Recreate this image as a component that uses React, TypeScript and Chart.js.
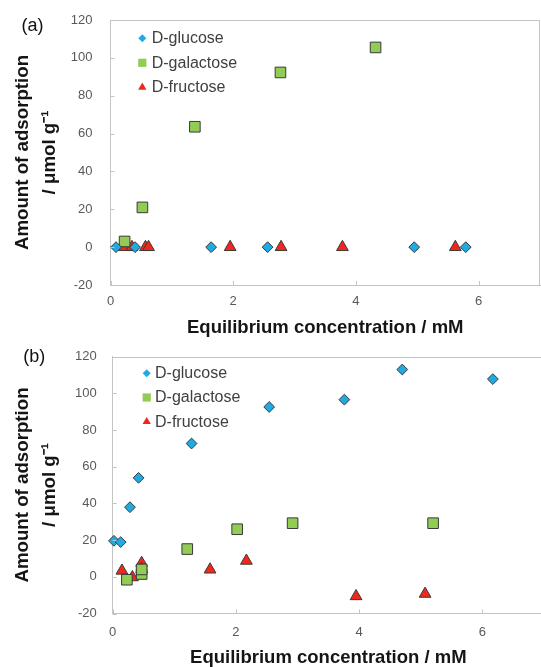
import React, { useEffect, useRef } from 'react';
import { Chart, registerables } from 'chart.js';
import { drawPoint } from 'chart.js/helpers';

Chart.register(...registerables);

// ---------- data ----------
const seriesNames = ['D-glucose', 'D-galactose', 'D-fructose'];
const xTitle = 'Equilibrium concentration / mM';
const yTitle = ['Amount of adsorption', '/ μmol g⁻¹'];
const xTickValues = [0, 2, 4, 6];
const yTickValues = [-20, 0, 20, 40, 60, 80, 100, 120];

// Panel (a)
const aGlucoseX = [0.09, 0.4, 1.64, 2.56, 4.95, 5.79];
const aGlucoseY = [0, 0, 0, 0, 0, 0];
const aGalactoseX = [0.23, 0.52, 1.375, 2.77, 4.32];
const aGalactoseY = [3, 21, 63.6, 92.3, 105.5];
const aFructoseX = [0.23, 0.35, 0.57, 0.62, 1.95, 2.78, 3.78, 5.62];
const aFructoseY = [0, 0, 0, 0, 0, 0, 0, 0];

// Panel (b)
const bGlucoseX = [0.02, 0.13, 0.28, 0.42, 1.28, 2.54, 3.76, 4.7, 6.17];
const bGlucoseY = [19.6, 18.9, 37.9, 53.9, 72.6, 92.5, 96.5, 112.9, 107.7];
const bGalactoseX = [0.23, 0.47, 0.47, 1.21, 2.02, 2.92, 5.2];
const bGalactoseY = [-1.6, 1.5, 4, 15.1, 25.9, 29.2, 29.2];
const bFructoseX = [0.15, 0.32, 0.47, 0.47, 1.58, 2.17, 3.95, 5.07];
const bFructoseY = [3.3, -0.3, 7.5, 4.2, 3.9, 8.7, -10.6, -9.3];

// ---------- styles ----------
const FONT = "'Liberation Sans', Arial, sans-serif";
const colors = ['#1eaae2', '#92cc55', '#f0281c'];
const pointStyles = ['rectRot', 'rect', 'triangle'];
const pointRadii = [5.4, 7.5, 6.8];
const legendRadii = [4, 5.8, 4.8];

const toPoints = (xs: number[], ys: number[]) => xs.map((x, i) => ({ x, y: ys[i] }));

const panelDecor = {
  id: 'panelDecor',
  afterDatasetsDraw(chart: any, _args: any, opts: any) {
    const { ctx, chartArea } = chart;
    const { left, right, top, bottom } = chartArea;
    ctx.save();
    ctx.strokeStyle = opts.frameColor;
    ctx.lineWidth = 1;
    ctx.beginPath();
    ctx.moveTo(left, Math.round(top) + 0.5);
    ctx.lineTo(right, Math.round(top) + 0.5);
    if (opts.rightBorder) {
      ctx.moveTo(Math.round(right) - 0.5, top);
      ctx.lineTo(Math.round(right) - 0.5, bottom);
    }
    const xs = chart.scales.x;
    const ys = chart.scales.y;
    xs.ticks.forEach((t: any) => {
      const px = Math.round(xs.getPixelForValue(t.value)) + 0.5;
      ctx.moveTo(px, bottom);
      ctx.lineTo(px, bottom - 4);
    });
    ys.ticks.forEach((t: any) => {
      const py = Math.round(ys.getPixelForValue(t.value)) + 0.5;
      ctx.moveTo(left, py);
      ctx.lineTo(left + 4, py);
    });
    ctx.stroke();

    const lg = opts.legend;
    chart.data.datasets.forEach((ds: any, i: number) => {
      const y = lg.y + i * lg.dy;
      ctx.fillStyle = ds.backgroundColor;
      ctx.strokeStyle = ds.backgroundColor;
      drawPoint(ctx, { pointStyle: ds.pointStyle, radius: legendRadii[i], borderWidth: 0, rotation: 0 } as any, lg.x, y);
      ctx.fillStyle = '#404040';
      ctx.font = `16px ${FONT}`;
      ctx.textBaseline = 'middle';
      ctx.textAlign = 'left';
      ctx.fillText(ds.label, lg.textX, y + 0.5);
    });
    ctx.restore();
  },
};

type PanelCfg = {
  width: number;
  height: number;
  top: number;
  padTop: number;
  padRight: number;
  yAxisWidth: number;
  xAxisHeight: number;
  yTickPad: number;
  xTickPad: number;
  xTitlePadBottom: number;
  rightBorder: boolean;
  legend: { x: number; y: number; dy: number; textX: number };
  series: { x: number[]; y: number[] }[];
};

const panelA: PanelCfg = {
  width: 541,
  height: 340,
  top: 0,
  padTop: 20,
  padRight: 1,
  yAxisWidth: 110.5,
  xAxisHeight: 55,
  yTickPad: 18,
  xTickPad: 9,
  xTitlePadBottom: 3,
  rightBorder: true,
  legend: { x: 142.3, y: 38.3, dy: 24.5, textX: 151.7 },
  series: [
    { x: aGlucoseX, y: aGlucoseY },
    { x: aGalactoseX, y: aGalactoseY },
    { x: aFructoseX, y: aFructoseY },
  ],
};

const panelB: PanelCfg = {
  width: 545,
  height: 327,
  top: 340,
  padTop: 16.5,
  padRight: 1,
  yAxisWidth: 112.7,
  xAxisHeight: 53.5,
  yTickPad: 16,
  xTickPad: 11,
  xTitlePadBottom: 0,
  rightBorder: false,
  legend: { x: 146.7, y: 33.3, dy: 24.2, textX: 155 },
  series: [
    { x: bGlucoseX, y: bGlucoseY },
    { x: bGalactoseX, y: bGalactoseY },
    { x: bFructoseX, y: bFructoseY },
  ],
};

function makeConfig(p: PanelCfg): any {
  return {
    type: 'scatter',
    data: {
      datasets: p.series.map((s, i) => ({
        label: seriesNames[i],
        data: toPoints(s.x, s.y),
        pointStyle: pointStyles[i],
        radius: pointRadii[i],
        pointRadius: pointRadii[i],
        backgroundColor: colors[i],
        borderColor: '#3a3a3a',
        borderWidth: 1,
        showLine: false,
        clip: false,
      })),
    },
    options: {
      responsive: false,
      animation: false,
      devicePixelRatio: 1,
      layout: { autoPadding: false, padding: { top: p.padTop, right: p.padRight, left: 0, bottom: 0 } },
      plugins: {
        legend: { display: false },
        tooltip: { enabled: false },
        panelDecor: { frameColor: '#c4c4c4', rightBorder: p.rightBorder, legend: p.legend },
      },
      scales: {
        x: {
          type: 'linear',
          min: 0,
          max: 7,
          bounds: 'data',
          afterBuildTicks: (s: any) => {
            s.ticks = xTickValues.map((v) => ({ value: v }));
          },
          afterFit: (s: any) => {
            s.height = p.xAxisHeight;
            s.paddingLeft = 0;
            s.paddingRight = 0;
            s.paddingTop = 0;
            s.paddingBottom = 0;
          },
          grid: { display: false, drawTicks: false },
          border: { display: true, color: '#c4c4c4', width: 1 },
          ticks: { padding: p.xTickPad, color: '#595959', font: { family: FONT, size: 13 } },
          title: {
            display: true,
            text: xTitle,
            color: '#151515',
            font: { family: FONT, size: 18.5, weight: 'bold', lineHeight: 1 },
            padding: { top: 0, bottom: p.xTitlePadBottom },
          },
        },
        y: {
          type: 'linear',
          min: -20,
          max: 120,
          bounds: 'data',
          afterBuildTicks: (s: any) => {
            s.ticks = yTickValues.map((v) => ({ value: v }));
          },
          afterFit: (s: any) => {
            s.width = p.yAxisWidth;
            s.paddingLeft = 0;
            s.paddingRight = 0;
            s.paddingTop = 0;
            s.paddingBottom = 0;
          },
          grid: { display: false, drawTicks: false },
          border: { display: true, color: '#c4c4c4', width: 1 },
          ticks: { padding: p.yTickPad, color: '#595959', font: { family: FONT, size: 13 } },
          title: {
            display: true,
            text: yTitle,
            color: '#151515',
            font: { family: FONT, size: 18.7, weight: 'bold', lineHeight: 1.45 },
            padding: { top: 9.5, bottom: 0 },
          },
        },
      },
    },
    plugins: [panelDecor],
  };
}

function Panel({ cfg }: { cfg: PanelCfg }) {
  const ref = useRef<HTMLCanvasElement | null>(null);
  useEffect(() => {
    if (!ref.current) return;
    const chart = new Chart(ref.current, makeConfig(cfg));
    return () => chart.destroy();
  }, [cfg]);
  return (
    <canvas
      ref={ref}
      width={cfg.width}
      height={cfg.height}
      style={{ position: 'absolute', left: 0, top: cfg.top, width: cfg.width, height: cfg.height }}
    />
  );
}

const panelLabels = ['(a)', '(b)'];

export default function App() {
  return (
    <div
      style={{
        position: 'absolute',
        left: 0,
        top: 0,
        width: 541,
        height: 667,
        overflow: 'hidden',
        background: '#ffffff',
        fontFamily: FONT,
      }}
    >
      <Panel cfg={panelA} />
      <Panel cfg={panelB} />
      <div style={{ position: 'absolute', left: 21.5, top: 16, fontSize: 18, lineHeight: '18px', color: '#111' }}>
        {panelLabels[0]}
      </div>
      <div style={{ position: 'absolute', left: 23.3, top: 347, fontSize: 18, lineHeight: '18px', color: '#111' }}>
        {panelLabels[1]}
      </div>
    </div>
  );
}
